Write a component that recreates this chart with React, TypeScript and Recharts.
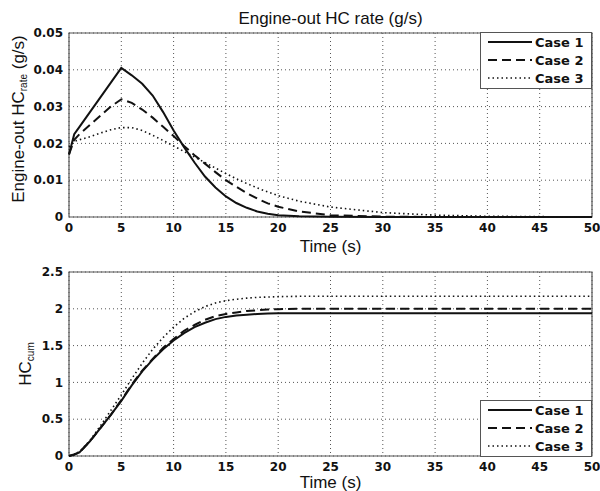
import React from "react";
import {
  LineChart,
  Line,
  XAxis,
  YAxis,
  CartesianGrid,
  ReferenceArea,
  Legend,
  Label,
} from "recharts";

// time grid (s) shared by every series
const time = [
  0, 0.5, 1, 2, 3, 4, 5, 6, 7, 8, 9, 10, 11, 12, 13, 14, 15, 16, 17, 18, 19, 20,
  22, 25, 30, 35, 40, 45, 50,
];

// engine-out HC rate (g/s)
const rateCase1 = [
  0.017, 0.0225, 0.0245, 0.0285, 0.0325, 0.0365, 0.0405, 0.0385, 0.0362, 0.033,
  0.0285, 0.0235, 0.019, 0.0148, 0.011, 0.008, 0.0056, 0.0038, 0.0025, 0.0015,
  0.0009, 0.0005, 0.0002, 0.0001, 0, 0, 0, 0, 0,
];
const rateCase2 = [
  0.017, 0.021, 0.0225, 0.025, 0.0275, 0.03, 0.032, 0.031, 0.0292, 0.027,
  0.0245, 0.022, 0.0193, 0.0168, 0.0145, 0.0122, 0.01, 0.0082, 0.0065, 0.005,
  0.0037, 0.0028, 0.0015, 0.0005, 0.0001, 0, 0, 0, 0,
];
const rateCase3 = [
  0.019, 0.0205, 0.021, 0.0218, 0.0228, 0.0237, 0.0243, 0.0243, 0.0235, 0.0222,
  0.0208, 0.0193, 0.0178, 0.0163, 0.0148, 0.0133, 0.0118, 0.0104, 0.0091,
  0.0079, 0.0068, 0.0058, 0.0043, 0.0027, 0.0012, 0.0005, 0.0002, 0.0001, 0,
];

// cumulative HC
const cumCase1 = [
  0, 0.02, 0.05, 0.2, 0.38, 0.56, 0.75, 0.96, 1.15, 1.31, 1.45, 1.57, 1.67,
  1.75, 1.81, 1.86, 1.89, 1.91, 1.92, 1.93, 1.935, 1.94, 1.94, 1.94, 1.94, 1.94,
  1.94, 1.94, 1.94,
];
const cumCase2 = [
  0, 0.02, 0.05, 0.2, 0.38, 0.56, 0.76, 0.97, 1.16, 1.32, 1.47, 1.59, 1.7, 1.78,
  1.85, 1.9, 1.93, 1.95, 1.97, 1.98, 1.99, 1.995, 2, 2, 2, 2, 2, 2, 2,
];
const cumCase3 = [
  0, 0.02, 0.06, 0.21, 0.41, 0.62, 0.83, 1.05, 1.26, 1.45, 1.61, 1.75, 1.87,
  1.96, 2.03, 2.08, 2.11, 2.13, 2.145, 2.155, 2.16, 2.165, 2.17, 2.17, 2.17,
  2.17, 2.17, 2.17, 2.17,
];

const caseNames = ["Case 1", "Case 2", "Case 3"];
const timeTicks = [0, 5, 10, 15, 20, 25, 30, 35, 40, 45, 50];
const rateTicks = [0, 0.01, 0.02, 0.03, 0.04, 0.05];
const cumTicks = [0, 0.5, 1, 1.5, 2, 2.5];

const rateData = time.map((t, i) => ({
  t,
  c1: rateCase1[i],
  c2: rateCase2[i],
  c3: rateCase3[i],
}));
const cumData = time.map((t, i) => ({
  t,
  c1: cumCase1[i],
  c2: cumCase2[i],
  c3: cumCase3[i],
}));

const INK = "#111";
const LINE_STYLES: Record<string, { strokeWidth: number; strokeDasharray?: string }> = {
  c1: { strokeWidth: 2 },
  c2: { strokeWidth: 2, strokeDasharray: "9 5" },
  c3: { strokeWidth: 1.6, strokeDasharray: "1.5 3" },
};

const TICK = {
  fontFamily: "DejaVu Sans",
  fontWeight: 700,
  fontSize: 12,
  fill: INK,
};
const LABEL_FONT = "Liberation Sans, Arial, sans-serif";

function CaseLegend({ payload }: any) {
  return (
    <svg width={112} height={57} style={{ display: "block" }}>
      <rect x={0.5} y={0.5} width={111} height={56} fill="#fff" stroke="#555" />
      {(payload ?? []).map((p: any, i: number) => {
        const y = 10 + i * 18;
        const s = LINE_STYLES[p.dataKey] ?? LINE_STYLES.c1;
        return (
          <g key={p.dataKey}>
            <line x1={8} x2={52} y1={y} y2={y} stroke={INK} {...s} />
            <text
              x={55}
              y={y}
              dy="0.36em"
              fontFamily="DejaVu Sans"
              fontWeight={700}
              fontSize={13}
              fill={INK}
            >
              {p.value}
            </text>
          </g>
        );
      })}
    </svg>
  );
}

// rotated y label with a subscript
function subLabel(main: string, sub: string, rest: string, cx: number, dy: number) {
  return (props: any) => {
    const vb = props.viewBox;
    const x = cx;
    const y = vb.y + vb.height / 2 + dy;
    return (
      <text
        x={x}
        y={y}
        transform={`rotate(-90 ${x} ${y})`}
        textAnchor="middle"
        dominantBaseline="central"
        fontFamily={LABEL_FONT}
        fontSize={17}
        fill={INK}
      >
        <tspan>{main}</tspan>
        <tspan fontSize={10} dy={5}>
          {sub}
        </tspan>
        {rest ? <tspan dy={-5}>{rest}</tspan> : null}
      </text>
    );
  };
}

function Panel({
  data,
  width,
  height,
  margin,
  xAxisHeight,
  yTicks,
  yLabel,
  legendTop,
  xLabelOffset,
}: any) {
  const yMax = yTicks[yTicks.length - 1];
  return (
    <LineChart width={width} height={height} data={data} margin={margin}>
      <CartesianGrid stroke="#555" strokeDasharray="1 3" />
      <XAxis
        dataKey="t"
        type="number"
        domain={[0, 50]}
        ticks={timeTicks}
        axisLine={false}
        tickLine={false}
        tick={TICK}
        tickMargin={0}
        height={xAxisHeight}
        interval={0}
      >
        <Label
          value="Time (s)"
          position="insideBottom"
          offset={xLabelOffset}
          style={{ fontFamily: LABEL_FONT, fontSize: 17, fill: INK }}
        />
      </XAxis>
      <YAxis
        type="number"
        domain={[0, yMax]}
        ticks={yTicks}
        axisLine={false}
        tickLine={false}
        tick={TICK}
        tickMargin={0}
        width={40}
        interval={0}
      >
        <Label content={yLabel} />
      </YAxis>
      <ReferenceArea
        x1={0}
        x2={50}
        y1={0}
        y2={yMax}
        fill="none"
        fillOpacity={0}
        stroke="#555"
        strokeWidth={1.2}
        ifOverflow="visible"
      />
      {["c1", "c2", "c3"].map((k, i) => (
        <Line
          key={k}
          dataKey={k}
          name={caseNames[i]}
          type="linear"
          stroke={INK}
          {...LINE_STYLES[k]}
          dot={false}
          activeDot={false}
          isAnimationActive={false}
        />
      ))}
      <Legend
        layout="vertical"
        align="center"
        verticalAlign="middle"
        width={112}
        height={57}
        wrapperStyle={{ left: 480, top: legendTop, width: 112, height: 57 }}
        content={<CaseLegend />}
      />
    </LineChart>
  );
}

export default function App() {
  return (
    <div
      style={{
        position: "absolute",
        left: 0,
        top: 0,
        width: 600,
        height: 491,
        background: "#fff",
      }}
    >
      <div
        style={{
          position: "absolute",
          left: 69,
          top: 9,
          width: 523,
          textAlign: "center",
          fontFamily: LABEL_FONT,
          fontSize: 17,
          color: INK,
          lineHeight: "20px",
        }}
      >
        Engine-out HC rate (g/s)
      </div>
      <div style={{ position: "absolute", left: 0, top: 0 }}>
        <Panel
          data={rateData}
          width={600}
          height={258}
          margin={{ top: 33, right: 8, bottom: 0, left: 29 }}
          xAxisHeight={41}
          yTicks={rateTicks}
          yLabel={subLabel("Engine-out HC", "rate", " (g/s)", 18, -6)}
          legendTop={32}
          xLabelOffset={6}
        />
      </div>
      <div style={{ position: "absolute", left: 0, top: 258 }}>
        <Panel
          data={cumData}
          width={600}
          height={233}
          margin={{ top: 14, right: 8, bottom: 0, left: 29 }}
          xAxisHeight={35}
          yTicks={cumTicks}
          yLabel={subLabel("HC", "cum", "", 25, 0)}
          legendTop={142}
          xLabelOffset={3}
        />
      </div>
    </div>
  );
}
